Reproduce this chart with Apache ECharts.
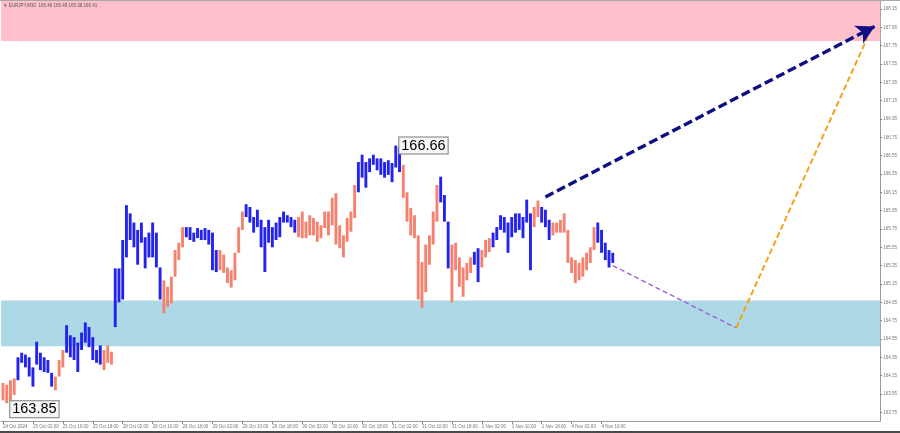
<!DOCTYPE html>
<html>
<head>
<meta charset="utf-8">
<script src="https://cdn.jsdelivr.net/npm/echarts@6/dist/echarts.min.js"></script>
<style>
html,body{margin:0;padding:0;background:#fff;}
#chart{width:900px;height:433px;}
</style>
</head>
<body>
<div id="chart"></div>
<script>
// ---- DATA ----
const symbolTitle = 'EURJPY,M30';
const lastOHLC = [165.46, 165.49, 165.38, 165.41];

// trading sessions (day label, first hour, last hour) -> hourly categories
const sessions = [
  ['24 Oct', 18, 23], ['25 Oct', 0, 23], ['28 Oct', 0, 23], ['29 Oct', 0, 23],
  ['30 Oct', 0, 23], ['31 Oct', 0, 23], ['1 Nov', 0, 23], ['4 Nov', 0, 23],
  ['5 Nov', 0, 23], ['6 Nov', 0, 23], ['7 Nov', 0, 12]
];

const highs = [
  164.07,164.05,164.10,164.12,164.35,164.40,164.38,164.35,164.24,164.52,
  164.40,164.35,164.32,164.18,164.14,164.32,164.43,164.70,164.59,164.57,
  164.51,164.62,164.73,164.68,164.57,164.43,164.48,164.43,164.48,164.41,
  165.32,165.32,165.63,166.01,165.92,165.82,165.74,165.82,165.66,165.71,
  165.82,165.71,165.33,165.19,165.12,165.23,165.52,165.60,165.77,165.77,
  165.77,165.71,165.76,165.74,165.76,165.74,165.71,165.52,165.52,165.47,
  165.33,165.30,165.49,165.77,165.94,166.02,165.99,165.88,165.96,165.85,
  165.77,165.85,165.77,165.82,165.88,165.94,165.90,165.88,165.85,165.88,
  165.94,165.83,165.90,165.87,165.83,165.79,165.94,165.94,166.09,166.14,
  165.79,165.68,165.87,165.94,166.23,166.48,166.56,166.48,166.52,166.56,
  166.52,166.52,166.48,166.50,166.47,166.66,166.64,166.45,166.15,165.98,
  165.90,165.68,165.39,165.58,165.68,165.94,166.23,166.32,166.12,165.83,
  165.58,165.60,165.44,165.33,165.38,165.44,165.50,165.54,165.52,165.63,
  165.65,165.71,165.77,165.90,165.88,165.82,165.88,165.92,165.92,165.88,
  166.07,165.92,165.99,166.06,165.99,165.96,165.85,165.82,165.82,165.85,
  165.92,165.74,165.44,165.41,165.38,165.44,165.49,165.55,165.77,165.82,
  165.74,165.60,165.52,165.49
];
const lows = [
  163.88,163.85,163.88,163.94,164.10,164.29,164.24,164.14,164.03,164.27,
  164.21,164.19,164.18,164.03,163.99,164.14,164.24,164.40,164.35,164.32,
  164.19,164.43,164.51,164.46,164.32,164.29,164.27,164.21,164.29,164.27,
  164.68,164.95,164.98,165.44,165.63,165.55,165.36,165.60,165.32,165.44,
  165.44,165.33,164.98,164.83,164.90,164.94,165.23,165.41,165.55,165.66,
  165.63,165.61,165.65,165.63,165.63,165.58,165.30,165.28,165.30,165.27,
  165.16,165.11,165.19,165.49,165.74,165.88,165.82,165.71,165.77,165.55,
  165.28,165.60,165.55,165.63,165.66,165.82,165.82,165.77,165.71,165.66,
  165.65,165.65,165.68,165.68,165.61,165.65,165.76,165.68,165.79,165.58,
  165.54,165.44,165.61,165.72,165.87,166.15,166.31,166.20,166.37,166.45,
  166.39,166.34,166.31,166.34,166.26,166.42,166.37,166.09,165.83,165.68,
  165.65,164.98,164.89,165.06,165.36,165.58,165.83,166.04,165.83,165.32,
  164.95,165.30,165.12,165.01,165.19,165.27,165.36,165.17,165.33,165.44,
  165.50,165.55,165.63,165.74,165.71,165.49,165.66,165.71,165.74,165.65,
  165.82,165.30,165.77,165.88,165.82,165.77,165.63,165.68,165.71,165.71,
  165.71,165.38,165.27,165.16,165.19,165.23,165.30,165.38,165.52,165.60,
  165.49,165.41,165.33,165.38
];
// wave colouring: [first bar, last bar, direction]
const waveSegments = [
  [0,3,'down'],[4,13,'up'],[14,16,'down'],[17,26,'up'],[27,29,'down'],
  [30,42,'up'],[43,48,'down'],[49,57,'up'],[58,64,'down'],[65,78,'up'],
  [79,94,'down'],[95,106,'up'],[107,116,'down'],[117,119,'up'],[120,125,'down'],
  [126,127,'up'],[128,130,'down'],[131,141,'up'],[142,143,'down'],[144,146,'up'],
  [147,158,'down'],[159,163,'up']
];

const yTickValues = [163.75,163.95,164.15,164.35,164.55,164.75,164.95,165.15,165.35,165.55,
  165.75,165.95,166.15,166.35,166.55,166.75,166.95,167.15,167.35,167.55,167.75,167.95,168.15];

const resistanceZone = [167.80, 168.30];
const supportZone = [164.47, 164.97];

const extremeBars = [105, 1];
const extremePrices = [166.66, 163.85];

// forecast paths [bar index, price]
const forecastMain = [[145, 166.10], [233, 167.96]];
const forecastCorrection = [[163, 165.35], [196, 164.67]];
const forecastImpulse = [[196, 164.67], [231, 167.83]];

// ---- BUILD ----
const categories = [];
sessions.forEach(([d, h0, h1]) => {
  for (let h = h0; h <= h1; h++) categories.push(d + ' ' + (h < 10 ? '0' + h : h) + ':00');
});
const nBars = highs.length;
const barColor = new Array(nBars).fill('#2323ee');
waveSegments.forEach(([a, b, dir]) => {
  for (let i = a; i <= b; i++) barColor[i] = dir === 'up' ? '#2323ee' : '#f5826e';
});
const barData = highs.map((h, i) => [i, h, lows[i]]);
const showLabel = (idx) => idx % 8 === 0 && idx < nBars;

const chart = echarts.init(document.getElementById('chart'), null, {renderer: 'canvas'});
const lineSty = (c, w, dash) => ({color: c, width: w, type: dash});

chart.setOption({
  animation: false,
  backgroundColor: '#ffffff',
  grid: {left: 0, right: 18, top: 0, bottom: 12},
  xAxis: {
    type: 'category',
    data: categories,
    boundaryGap: true,
    axisLine: {show: true, lineStyle: {color: '#9a9a9a', width: 1}},
    axisTick: {show: true, alignWithLabel: true, interval: showLabel, length: 3, lineStyle: {color: '#888'}},
    axisLabel: {
      show: true, interval: showLabel, align: 'left', margin: 3,
      fontSize: 4.5, color: '#777', fontFamily: 'Liberation Sans, Arial, sans-serif',
      formatter: (v, idx) => idx === 0 ? '24 Oct 2024' : v
    },
    splitLine: {show: false}
  },
  yAxis: {
    type: 'value',
    position: 'right',
    min: 163.655, max: 168.248,
    axisLine: {show: true, lineStyle: {color: '#9a9a9a', width: 1}},
    axisTick: {show: true, customValues: yTickValues, length: 2, lineStyle: {color: '#888'}},
    axisLabel: {
      show: true, customValues: yTickValues, margin: 3, fontSize: 4.5, color: '#777',
      fontFamily: 'Liberation Sans, Arial, sans-serif',
      formatter: (v) => v.toFixed(2)
    },
    splitLine: {show: false}
  },
  graphic: [
    {type: 'rect', shape: {x: 0, y: 0, width: 900, height: 1}, style: {fill: '#a8a8a8'}, z: 100},
    {type: 'rect', shape: {x: 0, y: 431, width: 900, height: 2}, style: {fill: '#4a4a4a'}, z: 100},
    {type: 'text', left: 3, top: 3, z: 100,
      style: {text: '\u25BC ' + symbolTitle + '  ' + lastOHLC.map(v => v.toFixed(2)).join(' '),
        fontSize: 4.5, fill: '#555', fontFamily: 'Liberation Sans, Arial, sans-serif'}}
  ],
  series: [{
    type: 'custom',
    name: 'price',
    data: barData,
    encode: {x: 0, y: [1, 2]},
    clip: true,
    renderItem: (params, api) => {
      const i = api.value(0);
      const p1 = api.coord([i, api.value(1)]);
      const p2 = api.coord([i, api.value(2)]);
      return {
        type: 'line',
        shape: {x1: p1[0], y1: p1[1], x2: p2[0], y2: p2[1]},
        style: {stroke: barColor[i], lineWidth: 2.9}
      };
    },
    z: 3,
    markArea: {
      silent: true,
      itemStyle: {opacity: 1},
      data: [
        [{yAxis: resistanceZone[0], itemStyle: {color: '#ffc0cb'}}, {yAxis: resistanceZone[1]}],
        [{yAxis: supportZone[0], itemStyle: {color: '#add8e6'}}, {yAxis: supportZone[1]}]
      ]
    },
    markLine: {
      silent: true,
      animation: false,
      symbol: ['none', 'none'],
      label: {show: false},
      data: [
        [{coord: forecastCorrection[0], symbol: 'none', lineStyle: lineSty('#a15fd8', 1.4, [5, 3])},
         {coord: forecastCorrection[1], symbol: 'none', lineStyle: lineSty('#a15fd8', 1.4, [5, 3])}],
        [{coord: forecastImpulse[0], symbol: 'none', lineStyle: lineSty('#f7a11c', 2, [6, 3])},
         {coord: forecastImpulse[1], symbol: 'none', lineStyle: lineSty('#f7a11c', 2, [6, 3])}],
        [{coord: forecastMain[0], symbol: 'none', lineStyle: lineSty('#0f0f85', 3.4, [9, 4])},
         {coord: forecastMain[1], symbol: 'arrow', symbolSize: [15, 18], lineStyle: lineSty('#0f0f85', 3.4, [9, 4])}],
        [{yAxis: lastOHLC[3], symbol: 'none', lineStyle: {color: 'rgba(0,0,0,0)', width: 0},
          label: {show: true, position: 'end', distance: 2, formatter: lastOHLC[3].toFixed(2),
            backgroundColor: '#1e1e1e', color: '#e8e8e8', fontSize: 4.5, padding: [1.5, 1]}},
         {yAxis: lastOHLC[3], symbol: 'none'}]
      ]
    },
    markPoint: {
      silent: true,
      symbol: 'rect',
      symbolSize: 1,
      itemStyle: {color: 'rgba(0,0,0,0)'},
      label: {
        show: true, position: 'right', distance: 3,
        fontSize: 14.5, color: '#000', fontFamily: 'Liberation Sans, Arial, sans-serif',
        backgroundColor: '#f6f6f6', borderColor: '#7d7d7d', borderWidth: 1,
        padding: [1, 2, 0, 2],
        formatter: (p) => p.data.value.toFixed(2)
      },
      data: [
        {coord: [extremeBars[0], extremePrices[0]], value: extremePrices[0]},
        {coord: [extremeBars[1], extremePrices[1]], value: extremePrices[1], label: {offset: [0, 6]}}
      ]
    }
  }]
});
</script>
</body>
</html>
